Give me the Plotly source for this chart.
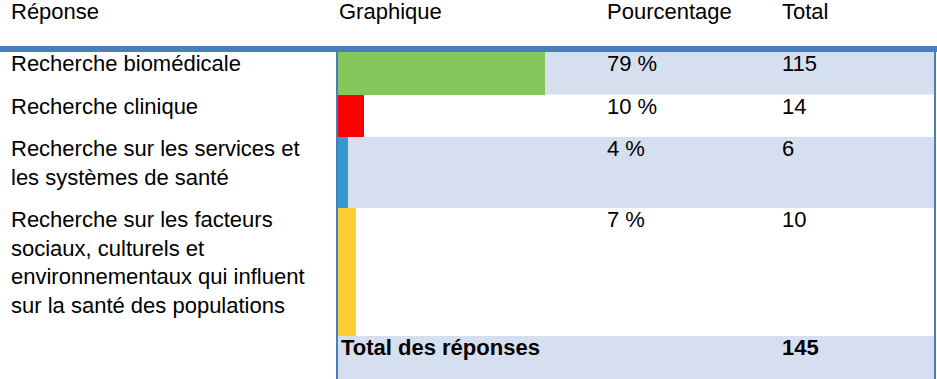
import plotly.graph_objects as go

# ---------------- data ----------------
headers = ["Réponse", "Graphique", "Pourcentage", "Total"]
categories = [
    ["Recherche biomédicale"],
    ["Recherche clinique"],
    ["Recherche sur les services et", "les systèmes de santé"],
    ["Recherche sur les facteurs", "sociaux, culturels et",
     "environnementaux qui influent", "sur la santé des populations"],
]
percentages = [79, 10, 4, 7]
pct_labels = ["79 %", "10 %", "4 %", "7 %"]
totals = [115, 14, 6, 10]
total_label = "Total des réponses"
total_responses = 145

# ---------------- styles ----------------
W, H = 937, 379
bar_colors = ["#85C75A", "#FF0000", "#3399CF", "#FFCC33"]
band_color = "#D6DFEF"
line_color = "#4A7EBB"
FONT = "Liberation Sans, Arial, sans-serif"
FS = 22
LINE_H = 28.5
PAD = 14
ROW0 = 52
col_x = [9, 337, 605, 780]   # px
graph_x0, graph_x1 = 338, 600  # px for 0..100 %

def px(x):
    return x / W

# row geometry derived from number of text lines
tops, heights = [], []
y = ROW0
for lines in categories:
    h = PAD + LINE_H * len(lines)
    tops.append(y)
    heights.append(h)
    y += h
total_top = y
centers = [t + h / 2 for t, h in zip(tops, heights)]

fig = go.Figure()
fig.add_trace(go.Bar(
    x=percentages, y=centers, width=heights, base=0, orientation="h",
    marker=dict(color=bar_colors, line=dict(width=0)),
    hoverinfo="skip", showlegend=False,
))

shapes = []
for i, (t, h) in enumerate(zip(tops, heights)):
    if i % 2 == 0:
        shapes.append(dict(type="rect", xref="paper", yref="y",
                           x0=px(graph_x0), x1=px(935), y0=t, y1=t + h,
                           fillcolor=band_color, line=dict(width=0), layer="below"))
shapes.append(dict(type="rect", xref="paper", yref="y",
                   x0=px(graph_x0), x1=px(935), y0=total_top, y1=H,
                   fillcolor=band_color, line=dict(width=0), layer="below"))
shapes.append(dict(type="rect", xref="paper", yref="y", x0=0, x1=1, y0=46, y1=52,
                   fillcolor=line_color, line=dict(width=0), layer="above"))
shapes.append(dict(type="rect", xref="paper", yref="y", x0=px(934), x1=px(936), y0=46, y1=H,
                   fillcolor=line_color, line=dict(width=0), layer="above"))
shapes.append(dict(type="rect", xref="paper", yref="y", x0=px(336), x1=px(338), y0=52, y1=H,
                   fillcolor=line_color, line=dict(width=0), layer="above"))

ann = []
def text(x, y, s, bold=False, yshift=3):
    ann.append(dict(xref="paper", yref="y", x=px(x), y=y, text=(f"<b>{s}</b>" if bold else s),
                    xanchor="left", yanchor="top", showarrow=False, yshift=yshift,
                    font=dict(family=FONT, size=FS, color="#000000")))

for hx, hs in zip(col_x, headers):
    text(hx, 0, hs, yshift=3)
for i, lines in enumerate(categories):
    for j, ln in enumerate(lines):
        text(col_x[0], tops[i] + j * LINE_H, ln)
    text(col_x[2], tops[i], pct_labels[i])
    text(col_x[3], tops[i], str(totals[i]))
text(col_x[1] + 2, total_top, total_label, bold=True)
text(col_x[3], total_top, str(total_responses), bold=True)

fig.update_layout(
    width=W, height=H, margin=dict(l=0, r=0, t=0, b=0),
    paper_bgcolor="white", plot_bgcolor="rgba(0,0,0,0)",
    xaxis=dict(domain=[px(graph_x0), px(graph_x1)], range=[0, 100], visible=False, fixedrange=True),
    yaxis=dict(range=[H, 0], visible=False, fixedrange=True),
    shapes=shapes, annotations=ann, bargap=0,
)
fig.write_html("out.html", config={"displayModeBar": False},
               post_script="document.body.style.margin='0px';document.body.style.overflow='hidden';")
